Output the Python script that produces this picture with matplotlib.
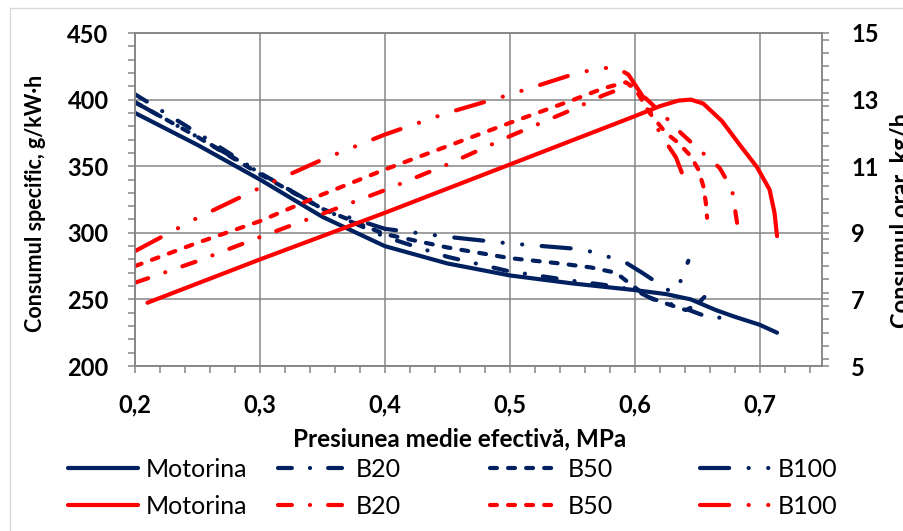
import numpy as np
import matplotlib.pyplot as plt
from matplotlib.ticker import MultipleLocator, FixedLocator, FuncFormatter
from matplotlib.lines import Line2D
from matplotlib.patches import Rectangle

plt.rcParams['font.family'] = ['Lato', 'DejaVu Sans']
plt.rcParams['font.weight'] = 'bold'
plt.rcParams['lines.scale_dashes'] = False

# consumul specific, g/kW·h (left axis)
spec_x_mot = [0.2, 0.25, 0.3, 0.35, 0.4, 0.45, 0.5, 0.55, 0.6, 0.625, 0.645, 0.665, 0.68, 0.7, 0.714]
spec_mot = [390, 366, 340, 312, 290, 277, 268, 262, 257, 254, 250, 242, 237, 231, 225]
spec_x_b20 = [0.2, 0.25, 0.3, 0.35, 0.4, 0.45, 0.5, 0.55, 0.575, 0.6, 0.615, 0.635, 0.655, 0.67, 0.682]
spec_b20 = [404, 375, 345, 318, 297, 282, 271, 264, 261, 257, 250, 245, 238, 236, 236]
spec_x_b50 = [0.2, 0.25, 0.3, 0.35, 0.4, 0.45, 0.5, 0.54, 0.565, 0.585, 0.596, 0.61, 0.628, 0.641, 0.65, 0.657]
spec_b50 = [398, 372, 344, 318, 299, 289, 281, 277, 274, 270, 262, 252, 246, 242, 246, 253]
spec_x_b100 = [0.2, 0.25, 0.3, 0.35, 0.4, 0.45, 0.5, 0.553, 0.57, 0.594, 0.606, 0.619, 0.63, 0.636, 0.643]
spec_b100 = [398, 372, 345, 318, 303, 297, 292, 288, 285, 277, 270, 262, 255, 262, 279]

# consumul orar, kg/h (right axis)
orar_x_mot = [0.21, 0.3, 0.4, 0.5, 0.6, 0.62, 0.635, 0.645, 0.655, 0.67, 0.685, 0.698, 0.708, 0.712, 0.714]
orar_mot = [6.9, 8.2, 9.6, 11.05, 12.5, 12.8, 12.97, 13.0, 12.88, 12.35, 11.6, 10.97, 10.3, 9.6, 8.9]
orar_x_b20 = [0.2, 0.25, 0.3, 0.35, 0.4, 0.45, 0.5, 0.55, 0.575, 0.596, 0.61, 0.624, 0.637, 0.653, 0.668, 0.678, 0.682]
orar_b20 = [7.5, 8.15, 8.87, 9.57, 10.28, 11.05, 11.9, 12.7, 13.13, 13.43, 13.0, 12.5, 12.0, 11.45, 10.95, 10.3, 9.3]
orar_x_b50 = [0.2, 0.25, 0.3, 0.35, 0.4, 0.45, 0.5, 0.55, 0.575, 0.593, 0.6, 0.612, 0.625, 0.635, 0.645, 0.651, 0.655, 0.657, 0.658]
orar_b50 = [8.0, 8.7, 9.35, 10.15, 10.9, 11.6, 12.3, 12.98, 13.34, 13.52, 13.35, 12.6, 12.0, 11.7, 11.3, 10.9, 10.4, 9.9, 9.45]
orar_x_b100 = [0.2, 0.25, 0.3, 0.35, 0.4, 0.45, 0.5, 0.55, 0.57, 0.585, 0.595, 0.61, 0.62, 0.633, 0.643]
orar_b100 = [8.45, 9.45, 10.35, 11.2, 11.95, 12.6, 13.15, 13.75, 13.93, 13.97, 13.75, 12.9, 12.0, 11.27, 10.3]

fuel_labels = ['Motorina', 'B20', 'B50', 'B100']
x_ticks = [0.2, 0.3, 0.4, 0.5, 0.6, 0.7]
right_ticks = [5, 7, 9, 11, 13, 15]

blue = '#002060'
red = '#ff0000'
grid_col = '#868686'
lw = 3.0
styles = ['-', (0, (10, 13, 0.1, 13)), (0, (5, 8)), (0, (21, 14, 0.1, 14, 0.1, 14))]

W, H = 904, 531
fig = plt.figure(figsize=(W / 100, H / 100), dpi=100)
ax = fig.add_axes([135 / W, 1 - 366 / H, (822 - 135) / W, (366 - 33) / H])
ax2 = ax.twinx()

spec_x = [spec_x_mot, spec_x_b20, spec_x_b50, spec_x_b100]
spec_y = [spec_mot, spec_b20, spec_b50, spec_b100]
orar_x = [orar_x_mot, orar_x_b20, orar_x_b50, orar_x_b100]
orar_y = [orar_mot, orar_b20, orar_b50, orar_b100]

for xs, ys, ls in zip(spec_x, spec_y, styles):
    ax.plot(xs, ys, color=blue, lw=lw, linestyle=ls,
            solid_capstyle='round', dash_capstyle='round', solid_joinstyle='round')
for xs, ys, ls in zip(orar_x, orar_y, styles):
    ax2.plot(xs, ys, color=red, lw=lw, linestyle=ls,
             solid_capstyle='round', dash_capstyle='round', solid_joinstyle='round')

ax.set_xlim(0.2, 0.75)
ax.set_ylim(200, 450)
ax2.set_ylim(5, 15)

ax.set_xticks(x_ticks)
ax.xaxis.set_major_formatter(FuncFormatter(lambda v, p: ('%.1f' % v).replace('.', ',')))
ax.xaxis.set_minor_locator(MultipleLocator(0.02))
ax.yaxis.set_major_locator(MultipleLocator(50))
ax.yaxis.set_minor_locator(MultipleLocator(10))
ax2.yaxis.set_major_locator(FixedLocator(right_ticks))
ax2.yaxis.set_minor_locator(MultipleLocator(0.4))

ax.grid(True, which='major', color=grid_col, lw=1.1)
ax.set_axisbelow(True)

for a in (ax, ax2):
    for s in a.spines.values():
        s.set_color(grid_col)
        s.set_linewidth(1.1)

ax.tick_params(axis='x', which='both', direction='out', length=5, width=1.1,
               color=grid_col, pad=15, labelsize=17)
ax.tick_params(axis='y', which='both', direction='out', length=5, width=1.1,
               color=grid_col, pad=14, labelsize=17)
ax2.tick_params(axis='y', which='both', direction='out', length=5, width=1.1,
                color=grid_col, pad=16, labelsize=17)

fig.text(36 / W, 1 - 203 / H, 'Consumul specific, g/kW·h', rotation=90,
         ha='center', va='center', fontsize=15.5)
fig.text(890 / W, 1 - 220 / H, 'Consumul orar, kg/h', rotation=90,
         ha='left', va='center', fontsize=17)
fig.text(460 / W, 1 - 439 / H, 'Presiunea medie efectivă, MPa',
         ha='center', va='center', fontsize=17.5)

# legend: four columns placed by hand
col_x = [68, 278, 490, 700]
for i, name in enumerate(fuel_labels):
    hs = [Line2D([], [], color=c, lw=lw, linestyle=styles[i],
                 solid_capstyle='round', dash_capstyle='round') for c in (blue, red)]
    fig.legend(hs, [name, name], loc='center left',
               bbox_to_anchor=(col_x[i] / W, 1 - 488 / H), frameon=False,
               prop={'size': 18, 'weight': 'normal'}, handlelength=2.8,
               handletextpad=0.3, borderpad=0, borderaxespad=0, labelspacing=0.55)

fig.patches.append(Rectangle((10 / W, -0.1), 1.2, 1.1 - 8 / H, transform=fig.transFigure,
                             fill=False, edgecolor='#d9d9d9', lw=1))

fig.savefig('out.png', dpi=100)
